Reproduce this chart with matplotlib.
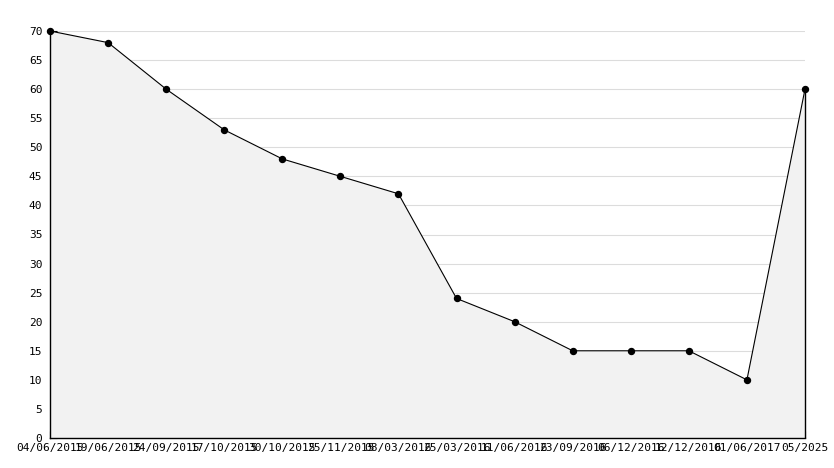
import numpy as np
import matplotlib
matplotlib.use("Agg")
import matplotlib.pyplot as plt
from matplotlib.ticker import MultipleLocator

dates = ["04/06/2015", "19/06/2015", "24/09/2015", "17/10/2015", "30/10/2015",
         "25/11/2015", "08/03/2016", "25/03/2016", "11/06/2016", "23/09/2016",
         "06/12/2016", "12/12/2016", "01/06/2017", "05/2025"]
values = [70, 68, 60, 53, 48, 45, 42, 24, 20, 15, 15, 15, 10, 60]

W, H = 834, 468
fig = plt.figure(figsize=(W / 100, H / 100), dpi=100)
ax = fig.add_axes([50 / W, (H - 438) / H, (805 - 50) / W, (438 - 31) / H])

x = np.arange(len(values))
ax.fill_between(x, values, 0, facecolor="#f2f2f2", edgecolor="none", zorder=1)
ax.plot(x, values, color="black", lw=0.8, zorder=3, clip_on=False)
ax.plot(x, values, linestyle="none", marker="o", ms=4.3, color="black",
        zorder=6, clip_on=False)
ax.vlines(x[-1], 0, values[-1], color="black", lw=1.0, zorder=3, clip_on=False)

ax.set_xlim(x[0], x[-1])
ax.set_ylim(0, 70)
ax.yaxis.set_major_locator(MultipleLocator(5))
ax.yaxis.set_minor_locator(MultipleLocator(1))
ax.set_xticks(x)
ax.set_xticklabels(dates)

ax.grid(axis="y", which="major", color="#dcdcdc", lw=0.8, zorder=0)
ax.set_axisbelow(True)

for side in ["top", "right"]:
    ax.spines[side].set_visible(False)
for side in ["left", "bottom"]:
    ax.spines[side].set_linewidth(1.0)
    ax.spines[side].set_zorder(5)

ax.tick_params(axis="y", which="major", direction="in", length=5, width=0.8, pad=5.5)
ax.tick_params(axis="y", which="minor", direction="in", length=3, width=0.8)
ax.tick_params(axis="x", which="major", direction="in", length=5, width=0.8, pad=3.5)
for lab in ax.get_xticklabels() + ax.get_yticklabels():
    lab.set_fontfamily("DejaVu Sans Mono")
    lab.set_fontsize(8)

fig.savefig("out.png", dpi=100, facecolor="white")
